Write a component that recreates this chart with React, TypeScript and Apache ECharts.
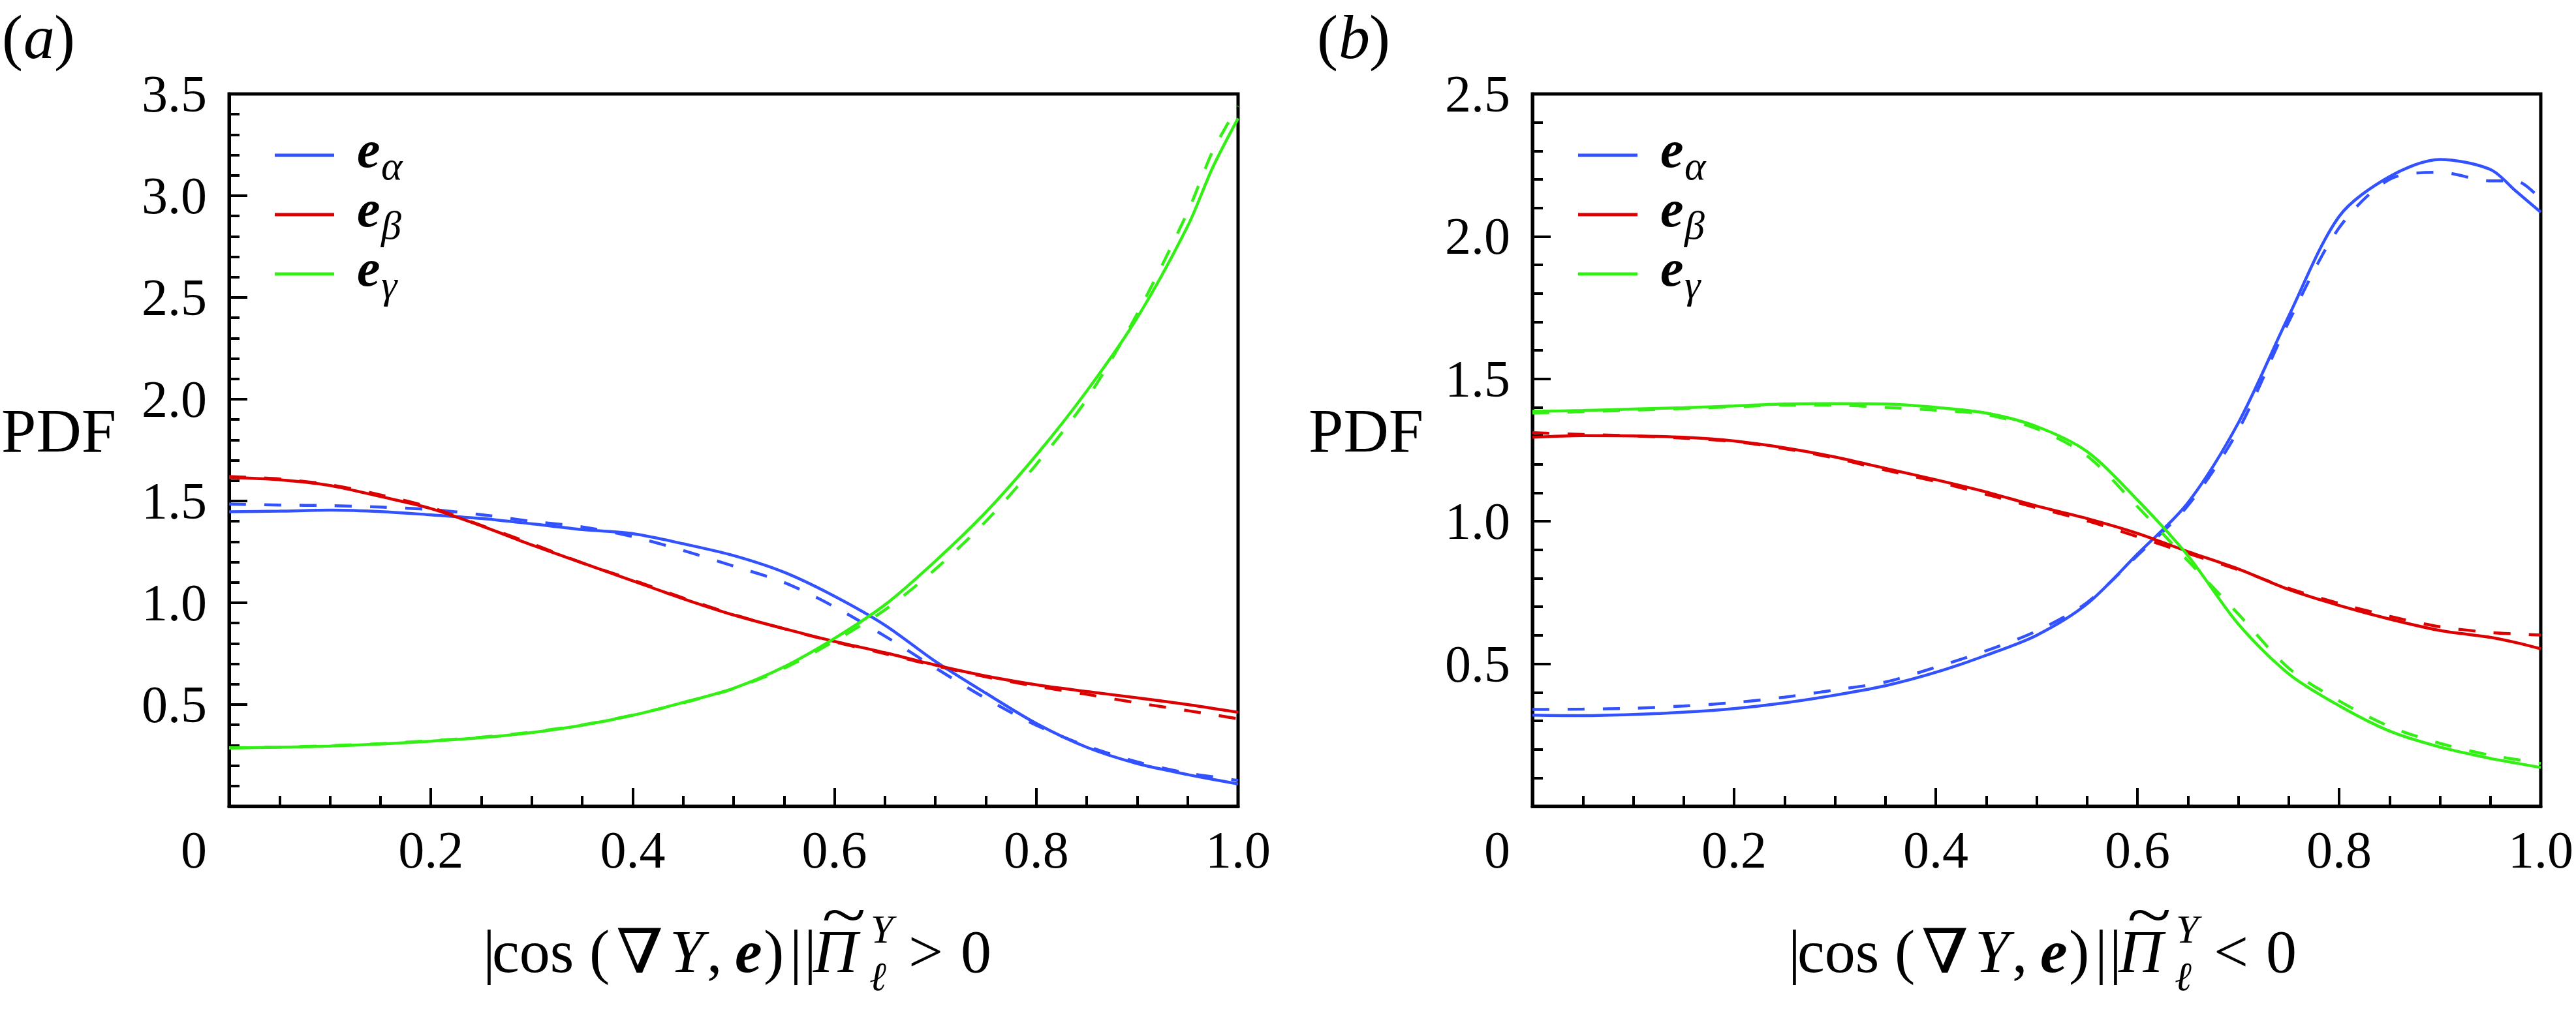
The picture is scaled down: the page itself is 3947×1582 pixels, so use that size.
import React, { useEffect, useRef } from 'react';
import * as echarts from 'echarts';

// ---------- data ----------
const X_GRID = [0, 0.05, 0.1, 0.15, 0.2, 0.25, 0.3, 0.35, 0.4, 0.45, 0.5, 0.55, 0.6, 0.65, 0.7, 0.75, 0.8, 0.85, 0.9, 0.95, 0.975, 1.0];

// panel (a): Pi > 0
const ALPHA_A_SOLID = [1.447, 1.450, 1.455, 1.448, 1.432, 1.414, 1.388, 1.360, 1.340, 1.290, 1.232, 1.150, 1.032, 0.890, 0.712, 0.556, 0.407, 0.290, 0.210, 0.156, 0.132, 0.110];
const ALPHA_A_DASH = [1.485, 1.480, 1.477, 1.470, 1.458, 1.433, 1.400, 1.373, 1.325, 1.257, 1.180, 1.100, 0.980, 0.836, 0.680, 0.530, 0.398, 0.296, 0.218, 0.163, 0.145, 0.127];
const BETA_A_SOLID = [1.615, 1.604, 1.576, 1.522, 1.463, 1.378, 1.284, 1.196, 1.108, 1.020, 0.940, 0.873, 0.810, 0.755, 0.694, 0.640, 0.597, 0.564, 0.533, 0.500, 0.481, 0.462];
const BETA_A_DASH = [1.620, 1.608, 1.580, 1.530, 1.468, 1.380, 1.290, 1.196, 1.112, 1.024, 0.942, 0.872, 0.808, 0.750, 0.690, 0.636, 0.590, 0.550, 0.508, 0.470, 0.450, 0.430];
const GAMMA_A_SOLID = [0.286, 0.290, 0.296, 0.306, 0.320, 0.337, 0.362, 0.398, 0.447, 0.510, 0.580, 0.685, 0.825, 0.990, 1.205, 1.445, 1.725, 2.040, 2.400, 2.850, 3.140, 3.380];
const GAMMA_A_DASH = [0.288, 0.291, 0.298, 0.308, 0.322, 0.340, 0.365, 0.400, 0.448, 0.508, 0.578, 0.678, 0.812, 0.965, 1.165, 1.400, 1.680, 2.000, 2.420, 2.920, 3.220, 3.440];

// panel (b): Pi < 0
const ALPHA_B_SOLID = [0.320, 0.318, 0.322, 0.330, 0.343, 0.363, 0.390, 0.423, 0.470, 0.530, 0.600, 0.710, 0.885, 1.065, 1.345, 1.720, 2.070, 2.210, 2.270, 2.235, 2.160, 2.085];
const ALPHA_B_DASH = [0.340, 0.341, 0.344, 0.352, 0.364, 0.383, 0.408, 0.436, 0.488, 0.546, 0.615, 0.715, 0.880, 1.055, 1.320, 1.700, 2.030, 2.200, 2.225, 2.195, 2.195, 2.130];
const BETA_B_SOLID = [1.295, 1.301, 1.300, 1.295, 1.282, 1.258, 1.226, 1.186, 1.146, 1.103, 1.054, 1.010, 0.958, 0.894, 0.833, 0.761, 0.705, 0.657, 0.617, 0.593, 0.575, 0.553];
const BETA_B_DASH = [1.311, 1.305, 1.300, 1.292, 1.280, 1.255, 1.222, 1.180, 1.140, 1.095, 1.048, 1.002, 0.946, 0.888, 0.830, 0.765, 0.712, 0.667, 0.630, 0.610, 0.605, 0.601];
const GAMMA_B_SOLID = [1.386, 1.389, 1.394, 1.399, 1.405, 1.412, 1.413, 1.412, 1.400, 1.380, 1.333, 1.245, 1.075, 0.880, 0.640, 0.465, 0.353, 0.264, 0.208, 0.168, 0.152, 0.136];
const GAMMA_B_DASH = [1.380, 1.385, 1.390, 1.396, 1.402, 1.408, 1.408, 1.400, 1.390, 1.375, 1.325, 1.230, 1.052, 0.862, 0.675, 0.485, 0.370, 0.280, 0.221, 0.179, 0.165, 0.150];

const Y_MAX = [3.5, 2.5];
const PANEL_LABELS = ['a', 'b'];
const CONDITION = ['>', '<'];
const LEGEND_SUBS = ['α', 'β', 'γ'];

// ---------- styles ----------
const BLUE = '#3352ff';
const RED = '#dd0000';
const GREEN = '#33f014';
const COLORS = [BLUE, RED, GREEN];
const SERIF = 'Liberation Serif';
const DASH = [26, 28];

const GRID_LEFT = [351, 2348];
const GRID_TOP = 144;
const GRID_W = [1546, 1545];
const GRID_H = 1092;
const PANEL_DX = 1997;

function zip(xs: number[], ys: number[]) {
  return xs.map((x, i) => [x, ys[i]]);
}

function txt(text: string, x: number, y: number, fs: number, o: any = {}) {
  const el: any = {
    type: 'text',
    x,
    y,
    silent: true,
    style: {
      text,
      fontSize: fs,
      fontFamily: o.family || SERIF,
      fontStyle: o.italic ? 'italic' : 'normal',
      fontWeight: o.bold ? 'bold' : 'normal',
      fill: '#000',
      align: o.align || 'left',
      verticalAlign: 'middle',
    },
  };
  if (o.scaleX) el.scaleX = o.scaleX;
  return el;
}

function panelGraphics(p: number) {
  const ox = p * PANEL_DX;
  const els: any[] = [];
  // panel label
  const lx = p === 0 ? 3 : 2018;
  els.push(txt('(', lx, 56, 96));
  els.push(txt(PANEL_LABELS[p], lx + 33, 56, 96, { italic: true }));
  els.push(txt(')', lx + 80, 56, 96));
  // y axis name
  els.push(txt('PDF', 2 + ox + (p === 1 ? 6 : 0), 660, 96));
  // legend
  const ly = [238, 329, 420];
  for (let i = 0; i < 3; i++) {
    els.push({
      type: 'line',
      silent: true,
      shape: { x1: 421 + ox, y1: ly[i], x2: 512 + ox, y2: ly[i] },
      style: { stroke: COLORS[i], lineWidth: 5 },
    });
    els.push(txt('e', 547 + ox, ly[i] - 9, 80, { italic: true, bold: true }));
    els.push(txt(LEGEND_SUBS[i], 584 + ox, ly[i] + 16, 62, { italic: true }));
  }
  // x axis title
  const x0 = 740 + ox + (p === 1 ? 3 : 0);
  const ym = 1458;
  const fs = 94;
  els.push(txt('|', x0, ym, fs));
  els.push(txt('cos', x0 + 14, ym, fs));
  els.push(txt('(', x0 + 163, ym, fs));
  els.push(txt('∇', x0 + 240, ym, fs, { align: 'center', family: 'DejaVu Serif', scaleX: 1.1 }));
  els.push(txt('Y', x0 + 286, ym, fs, { italic: true }));
  els.push(txt(',', x0 + 343, ym, fs));
  els.push(txt('e', x0 + 386, ym, fs, { italic: true, bold: true }));
  els.push(txt(')', x0 + 430, ym, fs));
  els.push(txt('|', x0 + 470, ym, fs));
  els.push(txt('|', x0 + 492, ym, fs));
  els.push(txt('Π', x0 + 506, ym, fs, { italic: true }));
  els.push(txt('~', x0 + 553, 1402, 96, { align: 'center', scaleX: 1.3 }));
  els.push(txt('Y', x0 + 594, 1424, 62, { italic: true }));
  els.push(txt('ℓ', x0 + 592, 1497, 62, { italic: true }));
  els.push(txt(CONDITION[p], x0 + 652, ym, fs));
  els.push(txt('0', x0 + 732, ym, fs));
  return els;
}

function xAxisFor(g: number) {
  return {
    type: 'value',
    gridIndex: g,
    min: 0,
    max: 1,
    interval: 0.2,
    axisLine: { show: true, onZero: false, lineStyle: { color: '#000', width: 5 } },
    axisTick: { show: true, inside: true, length: 28, lineStyle: { color: '#000', width: 4 } },
    minorTick: { show: true, splitNumber: 4, length: 16, lineStyle: { color: '#000', width: 4 } },
    splitLine: { show: false },
    minorSplitLine: { show: false },
    axisLabel: {
      margin: 27,
      fontSize: 80,
      fontFamily: SERIF,
      color: '#000',
      formatter: (v: number) => (v === 0 ? '{z|0}' : v.toFixed(1)),
      rich: {
        z: { fontSize: 80, fontFamily: SERIF, color: '#000', padding: [0, 108, 0, 0] },
      },
    },
  };
}

function yAxisFor(g: number) {
  return {
    type: 'value',
    gridIndex: g,
    min: 0,
    max: Y_MAX[g],
    interval: 0.5,
    axisLine: { show: true, onZero: false, lineStyle: { color: '#000', width: 5 } },
    axisTick: { show: true, inside: true, length: 28, lineStyle: { color: '#000', width: 4 } },
    minorTick: { show: true, splitNumber: 5, length: 16, lineStyle: { color: '#000', width: 4 } },
    splitLine: { show: false },
    minorSplitLine: { show: false },
    axisLabel: {
      margin: 34,
      fontSize: 80,
      fontFamily: SERIF,
      color: '#000',
      showMinLabel: false,
      formatter: (v: number) => v.toFixed(1),
    },
  };
}

function lineSeries(name: string, g: number, ys: number[], color: string, dashed: boolean) {
  return {
    name,
    type: 'line',
    xAxisIndex: g,
    yAxisIndex: g,
    data: zip(X_GRID, ys),
    smooth: 0.3,
    symbol: 'none',
    showSymbol: false,
    silent: true,
    z: dashed ? 2 : 3,
    lineStyle: { color, width: 4.5, type: dashed ? DASH : 'solid' },
  };
}

export default function App() {
  const ref = useRef<HTMLDivElement>(null);
  useEffect(() => {
    document.body.style.margin = '0';
    document.body.style.overflow = 'hidden';
    if (!ref.current) return;
    const chart = echarts.init(ref.current, undefined, { renderer: 'svg' });
    const option: any = {
      animation: false,
      backgroundColor: '#ffffff',
      textStyle: { fontFamily: SERIF },
      grid: [0, 1].map((g) => ({
        left: GRID_LEFT[g],
        top: GRID_TOP,
        width: GRID_W[g],
        height: GRID_H,
        show: true,
        borderColor: '#000',
        borderWidth: 5,
        backgroundColor: 'transparent',
        containLabel: false,
      })),
      xAxis: [xAxisFor(0), xAxisFor(1)],
      yAxis: [yAxisFor(0), yAxisFor(1)],
      series: [
        lineSeries('e_alpha dashed (a)', 0, ALPHA_A_DASH, BLUE, true),
        lineSeries('e_beta dashed (a)', 0, BETA_A_DASH, RED, true),
        lineSeries('e_gamma dashed (a)', 0, GAMMA_A_DASH, GREEN, true),
        lineSeries('e_alpha (a)', 0, ALPHA_A_SOLID, BLUE, false),
        lineSeries('e_beta (a)', 0, BETA_A_SOLID, RED, false),
        lineSeries('e_gamma (a)', 0, GAMMA_A_SOLID, GREEN, false),
        lineSeries('e_alpha dashed (b)', 1, ALPHA_B_DASH, BLUE, true),
        lineSeries('e_beta dashed (b)', 1, BETA_B_DASH, RED, true),
        lineSeries('e_gamma dashed (b)', 1, GAMMA_B_DASH, GREEN, true),
        lineSeries('e_alpha (b)', 1, ALPHA_B_SOLID, BLUE, false),
        lineSeries('e_beta (b)', 1, BETA_B_SOLID, RED, false),
        lineSeries('e_gamma (b)', 1, GAMMA_B_SOLID, GREEN, false),
      ],
      graphic: [...panelGraphics(0), ...panelGraphics(1)],
    };
    chart.setOption(option);
    return () => chart.dispose();
  }, []);
  return <div ref={ref} style={{ width: 3947, height: 1582 }} />;
}
